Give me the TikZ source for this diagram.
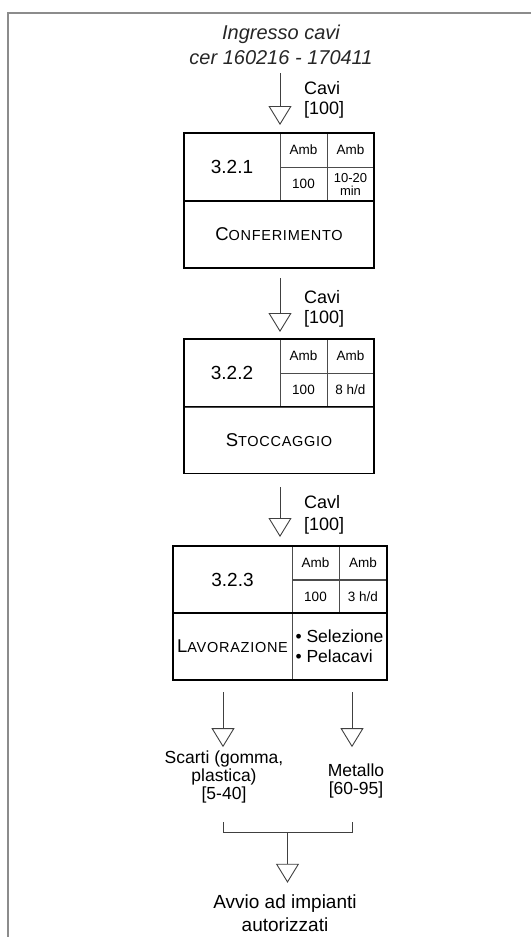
\documentclass[tikz,border=0pt]{standalone}
\usepackage{fontspec}
\setmainfont{Liberation Sans}
\usetikzlibrary{arrows.meta}

\newcommand{\capsname}[2]{{\fontsize{18.5}{20}\selectfont #1}{\fontsize{14.5}{16}\selectfont\addfontfeature{LetterSpace=5}#2}}

\begin{document}
\begin{tikzpicture}[x=1pt, y=-1pt,
    cell/.style={draw=black!70, line width=1pt, inner sep=0pt, outer sep=0pt, align=center},
    numcell/.style={cell, minimum width=96pt, minimum height=68pt, font=\fontsize{19}{20}\selectfont},
    infocell/.style={cell, minimum width=47pt, minimum height=34pt, font=\fontsize{13.5}{13.5}\selectfont},
    namecell/.style={cell, minimum width=190pt, minimum height=67pt},
    boxline/.style={draw=black, line width=1.3pt},
    conn/.style={draw=black!75, line width=0.9pt},
    flow/.style={conn, -{Triangle[open, length=19pt, width=23pt]}},
    lbl/.style={anchor=west, inner sep=0pt, align=left, font=\fontsize{18}{20}\selectfont},
    outtext/.style={align=center, inner sep=3pt, font=\fontsize{17.5}{18}\selectfont}]
  \useasboundingbox (0,0) rectangle (531,937);
  \draw[draw=black!45, line width=2pt] (8,937) -- (8,13) -- (531,13);

  \node[align=center, font=\fontsize{20}{25}\selectfont\itshape, text=black!85] (ingresso) at (281,45) {Ingresso cavi\\cer 160216 - 170411};

  % 3.2.1
  \node[numcell] (num1) at (232,167) {3.2.1};
  \node[infocell] (amb1a) at (303.5,150) {Amb};
  \node[infocell] (amb1b) at (350.5,150) {Amb};
  \node[infocell] (qty1) at (303.5,184) {100};
  \node[infocell, font=\fontsize{13}{13}\selectfont] (time1) at (350.5,184) {10-20\\min};
  \node[namecell] (name1) at (279,234.5) {\capsname{C}{ONFERIMENTO}};
  \draw[boxline] (num1.north west) rectangle (name1.south east);
  \draw[boxline] (name1.north west) -- (name1.north east);

  % 3.2.2
  \node[numcell] (num2) at (232,373) {3.2.2};
  \node[infocell] (amb2a) at (303.5,356) {Amb};
  \node[infocell] (amb2b) at (350.5,356) {Amb};
  \node[infocell] (qty2) at (303.5,390) {100};
  \node[infocell] (time2) at (350.5,390) {8 h/d};
  \node[namecell] (name2) at (279,440) {\capsname{S}{TOCCAGGIO}};
  \draw[boxline] (num2.north west) rectangle (name2.south east);
  \draw[boxline] (name2.north west) -- (name2.north east);

  % 3.2.3
  \node[numcell, minimum width=119pt, minimum height=67pt] (num3) at (232.5,579.5) {3.2.3};
  \node[infocell] (amb3a) at (315.5,563) {Amb};
  \node[infocell, minimum width=48pt] (amb3b) at (363,563) {Amb};
  \node[infocell] (qty3) at (315.5,596.5) {100};
  \node[infocell, minimum width=48pt] (time3) at (363,596.5) {3 h/d};
  \node[namecell, minimum width=119pt] (lav3) at (232.5,646.5) {\capsname{L}{AVORAZIONE}};
  \node[namecell, minimum width=95pt, align=left, font=\fontsize{17.5}{20}\selectfont] (sel3) at (339.5,646.5) {• Selezione\\• Pelacavi};
  \draw[boxline] (num3.north west) rectangle (sel3.south east);
  \draw[boxline] (lav3.north west) -- (sel3.north east);

  % flows
  \coordinate (src1) at (280,73);
  \draw[flow, shorten >=8pt] (src1) -- (num1.north east);
  \node[lbl] (cavi1) at (304,99.5) {Cavi\\{}[100]};

  \coordinate (src2) at (280,278);
  \draw[flow, shorten >=7pt] (src2) -- (num2.north east);
  \node[lbl] (cavi2) at (304,308.5) {Cavi\\{}[100]};

  \coordinate (src3) at (280,487);
  \draw[flow, shorten >=9pt] (src3) -- (src3 |- num3.north);
  \node[lbl, font=\fontsize{18}{22}\selectfont] (cavi3) at (304,514.5) {Cavl\\{}[100]};

  % outputs
  \coordinate (src4) at (223,692);
  \coordinate (src5) at (352,692);
  \node[outtext] (scarti) at (224,776.5) {Scarti (gomma,\\plastica)\\{}[5-40]};
  \node[outtext] (metallo) at (356,780.5) {Metallo\\{}[60-95]};
  \draw[flow] (src4) -- (src4 |- scarti.north);
  \draw[flow] (src5) -- (src5 |- scarti.north);

  \coordinate (join1) at (223,822);
  \coordinate (join2) at (352,822);
  \coordinate (joinm) at (287.5,832);
  \draw[conn] (join1) -- (join1 |- joinm) -- (join2 |- joinm) -- (join2);
  \node[outtext, font=\fontsize{19}{23}\selectfont] (avvio) at (285,913.5) {Avvio ad impianti\\autorizzati};
  \draw[flow, shorten >=9pt] (joinm) -- (joinm |- avvio.north);
\end{tikzpicture}
\end{document}
